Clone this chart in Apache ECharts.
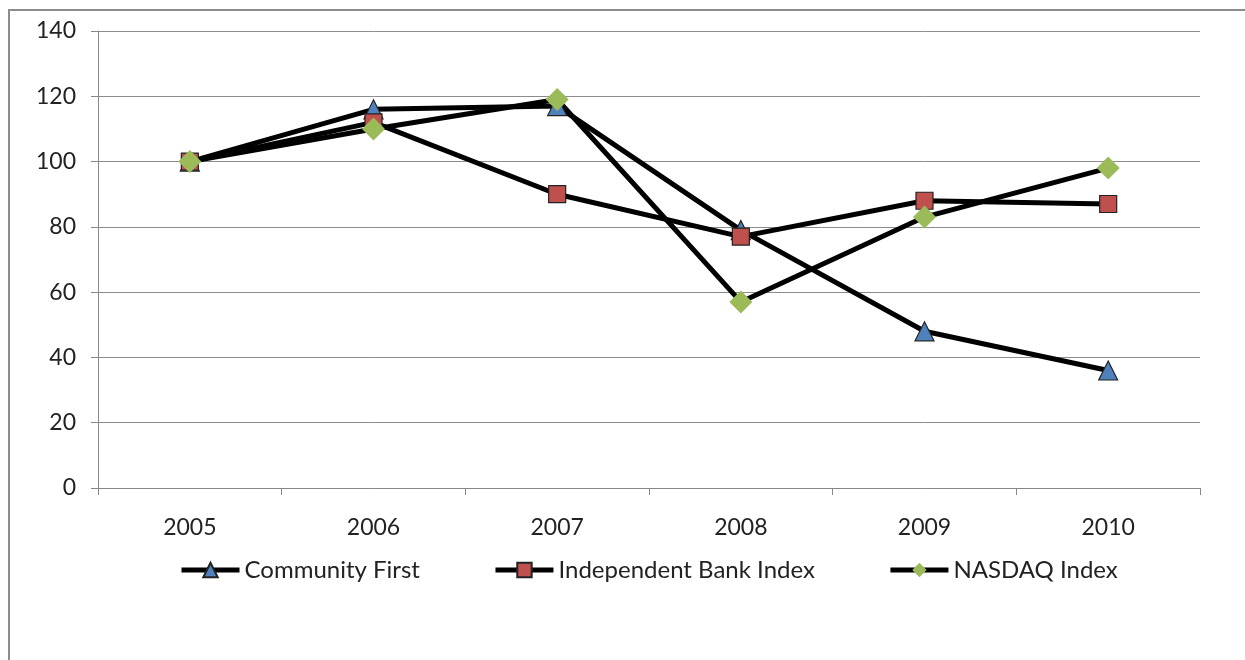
<!DOCTYPE html>
<html>
<head>
<meta charset="utf-8">
<script src="https://cdn.jsdelivr.net/npm/echarts@6/dist/echarts.min.js"></script>
<style>
html,body{margin:0;padding:0;background:#fff;}
#chart{width:1245px;height:660px;}
</style>
</head>
<body>
<div id="chart"></div>
<script>
var years = ['2005', '2006', '2007', '2008', '2009', '2010'];
var communityFirst = [100, 116, 117, 79, 48, 36];
var independentBank = [100, 112, 90, 77, 88, 87];
var nasdaq = [100, 110, 119, 57, 83, 98];

var chart = echarts.init(document.getElementById('chart'));
var font = 'Lato, "Open Sans", sans-serif';

function mkSeries(name, data, symbol, color, size, border) {
    return {
        name: name,
        type: 'line',
        data: data,
        symbol: symbol,
        symbolSize: size,
        lineStyle: {color: '#000', width: 5},
        itemStyle: {color: color, borderColor: border ? '#222' : color, borderWidth: border ? 1.2 : 0},
        emphasis: {disabled: true},
        z: 2
    };
}

var option = {
    backgroundColor: '#fff',
    animation: false,
    textStyle: {fontFamily: font},
    graphic: [{
        type: 'rect',
        shape: {x: 9, y: 10, width: 1260, height: 680},
        style: {fill: 'none', stroke: '#8c8c8c', lineWidth: 2},
        silent: true
    }],
    grid: {left: 98, right: 45, top: 31, bottom: 172},
    legend: {
        bottom: 73,
        left: 174,
        itemGap: 73,
        itemWidth: 58,
        itemHeight: 18,
        lineStyle: {width: 5, color: '#000'},
        textStyle: {fontSize: 24, color: '#222', fontFamily: font},
        data: ['Community First', 'Independent Bank Index', 'NASDAQ Index']
    },
    xAxis: {
        type: 'category',
        data: years,
        boundaryGap: true,
        axisLine: {lineStyle: {color: '#888', width: 1}},
        axisTick: {show: true, length: 7, lineStyle: {color: '#888'}},
        axisLabel: {fontSize: 23, color: '#222', margin: 28},
        splitLine: {show: false}
    },
    yAxis: {
        type: 'value',
        min: 0,
        max: 140,
        interval: 20,
        axisLine: {show: true, lineStyle: {color: '#888', width: 1}},
        axisTick: {show: true, length: 7, lineStyle: {color: '#888'}},
        axisLabel: {fontSize: 23, color: '#222', margin: 22},
        splitLine: {lineStyle: {color: '#8c8c8c', width: 1}}
    },
    series: [
        mkSeries('Community First', communityFirst, 'triangle', '#4f81bd', 19, true),
        mkSeries('Independent Bank Index', independentBank, 'rect', '#c0504d', 17, true),
        mkSeries('NASDAQ Index', nasdaq, 'diamond', '#9bbb59', 23, false)
    ]
};
chart.setOption(option);
</script>
</body>
</html>
